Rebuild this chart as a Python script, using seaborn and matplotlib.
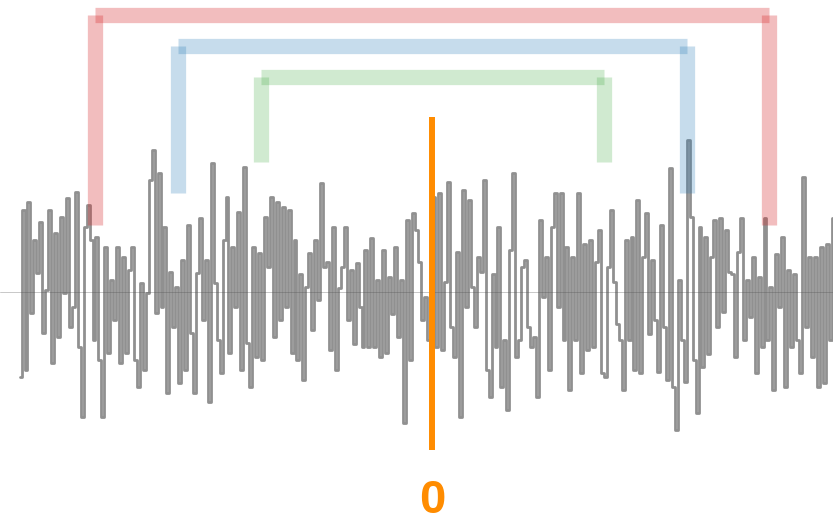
import numpy as np
import pandas as pd
import matplotlib
matplotlib.use('Agg')
import matplotlib.pyplot as plt
import seaborn as sns

# Noisy signal, read left to right off the picture (amplitude above baseline)
seg1 = [-85, 82, -78, 90, -21, 52, 19, 70, -41, 2, 82, -71, 59, -45, 75, -1, 94, -35, -15, 100,
        -55, -125, 65, 87, 52, -48, 55, -68, -125, 45, -61, 12, -28, 45, -71, 35, -61, 22, 45, -68,
        -95, 9, -78, -1, 112]
seg2 = [142, -21, 119, -15, 65, -101, 20, -35, 5, -91, 32, -78, 67, -41, -101, 19, 74, -28, 32, -110,
        129, 9, -48, -81, 52, 95, -61, 45, -15, 80, -78, 125, -51, -95, 45, -65, 39, -68, 75, 25,
        95, -45, 90, -28, 85, -15]
seg3 = [82, -61, 52, -68, 18, -88, 5, 39, -38, 52, -8, 109, 25, 30, -58, 65, -78, 4, 25, 65,
        -28, 22, -52, 29, -15, -55, 42, -55, 54, -55, 12, -65, 42, -61, 15, -22, 45, -45, 12, -131,
        72, -68, 79, 62, 30, -28]
seg4 = [-5, -48, -61, 95, -55, 99, -58, 10, 110, -35, -65, 40, -125, 102, -15, 92, 5, -35, 35, 20,
        112, -78, -105, 18, -55, 65, -95, -48, -118, 42, 119, -65, -48, 25, 32, -35, -55, -45, -105, 72,
        -5, 35, -78, 65, 99, -15]
seg5 = [99, -48, 45, -98, 35, -48, 99, -81, 48, -58, 52, -55, 30, 62, -81, -85, 25, 82, 10, -32,
        -48, -98, 52, -48, 55, -78, 92, -81, 35, 79, -42, 32, -28, -80, 67, -35, -88, 124, -95, -138,
        12, -48, -90, 152, 75, -68]
seg6 = [-121, 65, -75, 55, -62, 35, 72, -35, 74, -20, 62, 20, 18, -65, 40, 74, -48, 12, -25, 35,
        -81, 15, -55, 74, -48, 5, -98, 38, -15, 55, -95, 22, -55, 18, -48, -81, 115, -35, 35, -65,
        35, -95, 45, -91, 48, -48, 74]
signal = seg1 + seg2 + seg3 + seg4 + seg5 + seg6

center = 139.5                       # sample index of lag 0
lags = [114, 86, 58]                 # bracket half-widths (samples)
bracket_tops = [277, 246, 215]
bracket_bottoms = [67, 99, 130]
bracket_colors = ['tab:red', 'tab:blue', 'tab:green']
bracket_alpha = [0.3, 0.25, 0.22]
zero_label = '0'

df = pd.DataFrame({'t': np.arange(len(signal)) - center, 'v': signal})

sns.set_style('white')
fig = plt.figure(figsize=(8.33, 5.23), dpi=100)
ax = fig.add_axes([0, 0, 1, 1])

ax.axhline(0, color='0.5', lw=0.6, alpha=0.5, zorder=1)
sns.lineplot(data=df, x='t', y='v', ax=ax, color='0.28', lw=2.0, alpha=0.6,
             drawstyle='steps-mid', zorder=2)

for lag, top, bot, col, a in zip(lags, bracket_tops, bracket_bottoms, bracket_colors, bracket_alpha):
    kw = dict(color=col, alpha=a, lw=11, solid_capstyle='butt', zorder=3)
    ax.plot([-lag, -lag], [bot, top], **kw)
    ax.plot([-lag, lag], [top, top], **kw)
    ax.plot([lag, lag], [top, bot], **kw)

ax.plot([0, 0], [-158, 175], color='#ff8c00', lw=4.3, solid_capstyle='butt', zorder=4)
ax.text(0, -221, zero_label, color='#ff8c00', fontsize=34, fontweight='bold',
        family=['Liberation Sans', 'DejaVu Sans'], ha='center', va='baseline')

ax.set_xlim(-146.3, 135.5)
ax.set_ylim(-231, 292)
ax.axis('off')
if ax.get_legend():
    ax.get_legend().remove()

fig.savefig('out.png', dpi=100)
